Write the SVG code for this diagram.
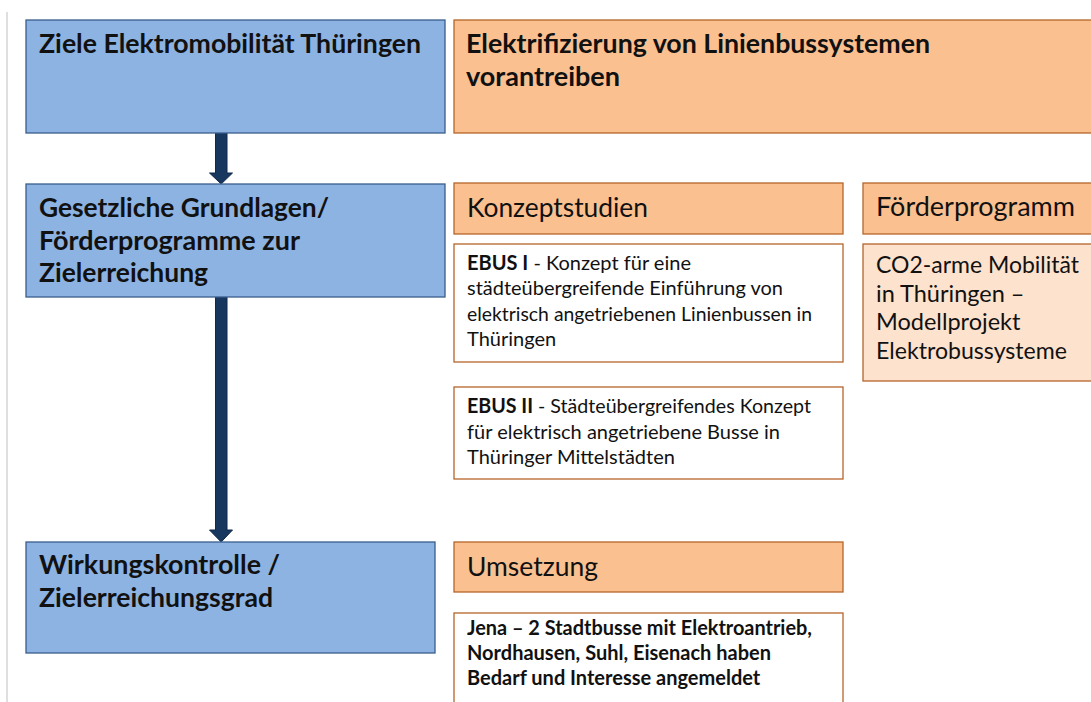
<svg xmlns="http://www.w3.org/2000/svg" width="1091" height="702" viewBox="0 0 1091 702">
<style>
text{font-family:Lato,"Liberation Sans",sans-serif;fill:#111}
.blue{fill:#8DB3E2;stroke:#3A5F8C;stroke-width:1.3}
.or{fill:#FAC090;stroke:#B5652A;stroke-width:1.3}
.lt{fill:#FDE2CD;stroke:#B5652A;stroke-width:1.3}
.wh{fill:#FFFFFF;stroke:#B5652A;stroke-width:1.3}
.h{font-size:26.5px;font-weight:bold}
.hr{font-size:26.5px}
.s{font-size:20px}
.sb{font-size:20px;font-weight:bold}
.m{font-size:23.5px}
.arr{fill:#17375E;stroke:#10294A;stroke-width:1}
</style>
<line x1="7" y1="12" x2="7" y2="702" stroke="#D4D4D4" stroke-width="1.5"/>
<g id="connectors">
<path class="arr" d="M215.5,133 H227 V173 H232.5 L221.2,184 L209.5,173 H215.5 Z"/>
<path class="arr" d="M215.5,297 H227 V530 H232.5 L221.2,542 L209.5,530 H215.5 Z"/>
</g>
<g id="ziele">
<rect class="blue" x="26" y="20" width="419" height="113"/>
<text class="h" x="39" y="53" textLength="382" lengthAdjust="spacingAndGlyphs">Ziele Elektromobilität Thüringen</text>
</g>
<g id="elektrifizierung">
<rect class="or" x="454" y="20" width="645" height="113"/>
<text class="h" x="466" y="53" textLength="464" lengthAdjust="spacingAndGlyphs">Elektrifizierung von Linienbussystemen</text>
<text class="h" x="466" y="86" textLength="154" lengthAdjust="spacingAndGlyphs">vorantreiben</text>
</g>
<g id="grundlagen">
<rect class="blue" x="26" y="184" width="419" height="113"/>
<text class="h" x="39" y="217" textLength="290" lengthAdjust="spacingAndGlyphs">Gesetzliche Grundlagen/</text>
<text class="h" x="39" y="249.5" textLength="261" lengthAdjust="spacingAndGlyphs">Förderprogramme zur</text>
<text class="h" x="39" y="282" textLength="169" lengthAdjust="spacingAndGlyphs">Zielerreichung</text>
</g>
<g id="wirkung">
<rect class="blue" x="26" y="542" width="409" height="111"/>
<text class="h" x="39" y="574" textLength="241" lengthAdjust="spacingAndGlyphs">Wirkungskontrolle /</text>
<text class="h" x="39" y="607" textLength="234" lengthAdjust="spacingAndGlyphs">Zielerreichungsgrad</text>
</g>
<g id="konzeptstudien">
<rect class="or" x="454" y="183" width="389" height="51"/>
<text class="hr" x="467" y="217" textLength="181" lengthAdjust="spacingAndGlyphs">Konzeptstudien</text>
</g>
<g id="ebus1">
<rect class="wh" x="454" y="244" width="389" height="118"/>
<text class="s" x="467" y="270"><tspan font-weight="bold">EBUS I</tspan> - Konzept für eine</text>
<text class="s" x="467" y="295" textLength="316" lengthAdjust="spacingAndGlyphs">städteübergreifende Einführung von</text>
<text class="s" x="467" y="320.5" textLength="345" lengthAdjust="spacingAndGlyphs">elektrisch angetriebenen Linienbussen in</text>
<text class="s" x="467" y="346">Thüringen</text>
</g>
<g id="ebus2">
<rect class="wh" x="454" y="387" width="389" height="92"/>
<text class="s" x="467" y="413" textLength="344" lengthAdjust="spacingAndGlyphs"><tspan font-weight="bold">EBUS II</tspan> - Städteübergreifendes Konzept</text>
<text class="s" x="467" y="438.5">für elektrisch angetriebene Busse in</text>
<text class="s" x="467" y="464">Thüringer Mittelstädten</text>
</g>
<g id="foerderprogramm">
<rect class="or" x="863" y="183" width="240" height="51"/>
<text class="hr" x="876" y="216" textLength="199" lengthAdjust="spacingAndGlyphs">Förderprogramm</text>
</g>
<g id="co2">
<rect class="lt" x="863" y="244" width="240" height="137"/>
<text class="m" x="876" y="273" textLength="203" lengthAdjust="spacingAndGlyphs">CO2-arme Mobilität</text>
<text class="m" x="876" y="301.5">in Thüringen –</text>
<text class="m" x="876" y="330">Modellprojekt</text>
<text class="m" x="876" y="359" textLength="191" lengthAdjust="spacingAndGlyphs">Elektrobussysteme</text>
</g>
<g id="umsetzung">
<rect class="or" x="454" y="542" width="389" height="50"/>
<text class="hr" x="467" y="576" textLength="131" lengthAdjust="spacingAndGlyphs">Umsetzung</text>
</g>
<g id="jena">
<rect class="wh" x="454" y="613" width="389" height="100"/>
<text class="sb" x="467" y="635" textLength="345" lengthAdjust="spacingAndGlyphs">Jena – 2 Stadtbusse mit Elektroantrieb,</text>
<text class="sb" x="467" y="660">Nordhausen, Suhl, Eisenach haben</text>
<text class="sb" x="467" y="685">Bedarf und Interesse angemeldet</text>
</g>
</svg>
